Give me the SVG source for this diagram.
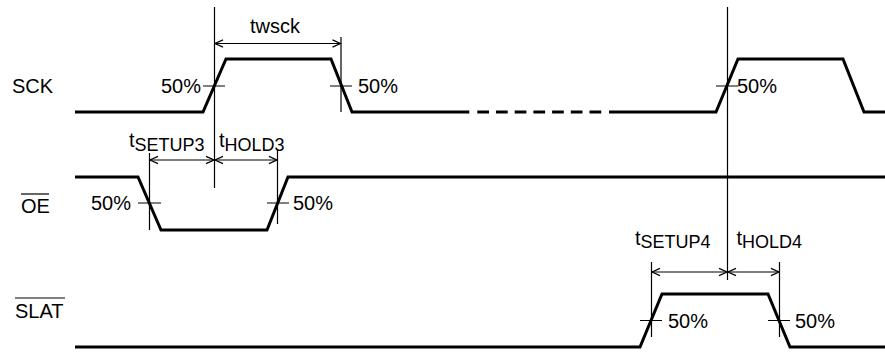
<svg xmlns="http://www.w3.org/2000/svg" width="885" height="354" viewBox="0 0 885 354">
<defs>
<marker id="ah" viewBox="-10 -5 11 10" markerWidth="11" markerHeight="10" refX="0" refY="0" orient="auto-start-reverse" markerUnits="userSpaceOnUse">
<path d="M-8,-3.6 L0,0 L-8,3.6" fill="none" stroke="#000" stroke-width="1.2"/>
</marker>
<style>
text{font-family:"Liberation Sans",Arial,sans-serif;font-size:20px;fill:#000}
.sub{font-size:18px}
.sig{fill:none;stroke:#000;stroke-width:3;stroke-linejoin:miter}
.thin{fill:none;stroke:#000;stroke-width:1.2}
.dim{fill:none;stroke:#000;stroke-width:1.1;marker-start:url(#ah);marker-end:url(#ah)}
.dash{stroke-dasharray:11.7 7}
</style>
</defs>
<rect width="885" height="354" fill="#fff"/>
<g id="sck">
<text x="12" y="93">SCK</text>
<path class="sig" d="M75,112 H203 L226,59 H331 L352,112 H469.3"/>
<path class="sig dash" d="M477.3,112 H601.3"/>
<path class="sig" d="M609,112 H716 L738,59 H843 L864,112 H885"/>
<path class="thin" d="M203,86 H225 M330,86 H352 M716,86 H738"/>
<text x="161" y="93">50%</text>
<text x="358" y="93">50%</text>
<text x="737" y="93">50%</text>
</g>
<g id="oe">
<text x="21" y="213">OE</text>
<line class="thin" x1="21" y1="194" x2="49" y2="194"/>
<path class="sig" d="M75,177 H138 L161,230 H267 L288,177 H885"/>
<path class="thin" d="M138,203 H161 M267,203 H289"/>
<text x="91" y="210">50%</text>
<text x="293" y="210">50%</text>
</g>
<g id="slat">
<text x="15" y="318">SLAT</text>
<line class="thin" x1="15" y1="298" x2="65" y2="298"/>
<path class="sig" d="M75,347 H640 L662,294 H768 L790,347 H885"/>
<path class="thin" d="M640,320.5 H662 M768,320.5 H790"/>
<text x="668" y="328">50%</text>
<text x="795" y="328">50%</text>
</g>
<g id="connectors">
<path class="thin" d="M214.5,7 V188 M341,37 V112 M149.5,153 V230 M277.5,150 V224 M727.5,7 V280 M651.5,262 V337 M779.5,262 V337"/>
<line class="dim" x1="215" y1="43.5" x2="340.5" y2="43.5"/>
<line class="dim" x1="150" y1="160" x2="214" y2="160"/>
<line class="dim" x1="215" y1="160" x2="277" y2="160"/>
<line class="dim" x1="652" y1="272" x2="727" y2="272"/>
<line class="dim" x1="728" y1="272" x2="779" y2="272"/>
</g>
<g id="labels">
<text x="250" y="33">twsck</text>
<text x="129" y="147">t<tspan class="sub" dy="4">SETUP3</tspan></text>
<text x="219" y="147">t<tspan class="sub" dy="4">HOLD3</tspan></text>
<text x="635" y="245">t<tspan class="sub" dy="3">SETUP4</tspan></text>
<text x="736.5" y="245">t<tspan class="sub" dy="3">HOLD4</tspan></text>
</g>
</svg>
